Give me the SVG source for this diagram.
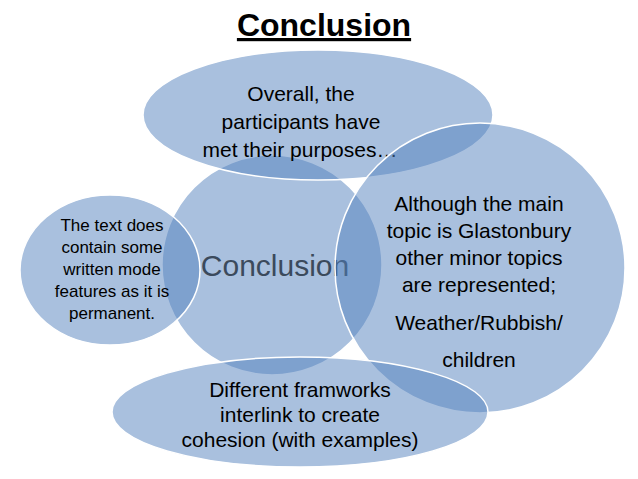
<svg xmlns="http://www.w3.org/2000/svg" width="638" height="479" viewBox="0 0 638 479">
<style>
.s{fill:rgb(83,129,189);fill-opacity:0.5;stroke:#fff;stroke-width:1.5}
text{font-family:"Liberation Sans",Arial,sans-serif;text-anchor:middle;fill:#000}
.t{font-size:21px}
.l{font-size:17px}
</style>
<rect width="638" height="479" fill="#fff"/>
<text x="324" y="36" style="font-size:32px;font-weight:bold;text-decoration:underline">Conclusion</text>
<g id="center"><circle class="s" cx="272" cy="265" r="110"/>
<text x="275" y="276" style="font-size:30px;fill:#3b4a5c">Conclusion</text></g>
<g id="top"><ellipse class="s" cx="318" cy="115" rx="175" ry="65"/>
<text class="t" x="301" y="101">Overall, the</text>
<text class="t" x="301" y="129">participants have</text>
<text class="t" x="300" y="157">met their purposes…</text></g>
<g id="right"><circle class="s" cx="480" cy="268" r="145"/>
<text class="t" x="479" y="211">Although the main</text>
<text class="t" x="479" y="238">topic is Glastonbury</text>
<text class="t" x="479" y="265">other minor topics</text>
<text class="t" x="479" y="292">are represented;</text>
<text class="t" x="479" y="330">Weather/Rubbish/</text>
<text class="t" x="479" y="367">children</text></g>
<g id="left"><ellipse class="s" cx="110" cy="270" rx="90" ry="75"/>
<text class="l" x="112" y="231">The text does</text>
<text class="l" x="112" y="253">contain some</text>
<text class="l" x="112" y="275">written mode</text>
<text class="l" x="112" y="297">features as it is</text>
<text class="l" x="112" y="319">permanent.</text></g>
<g id="bottom"><ellipse class="s" cx="300" cy="412" rx="188" ry="55"/>
<text class="t" x="300" y="397">Different framworks</text>
<text class="t" x="300" y="422">interlink to create</text>
<text class="t" x="300" y="447">cohesion (with examples)</text></g>
<g id="connectors"/>
</svg>
